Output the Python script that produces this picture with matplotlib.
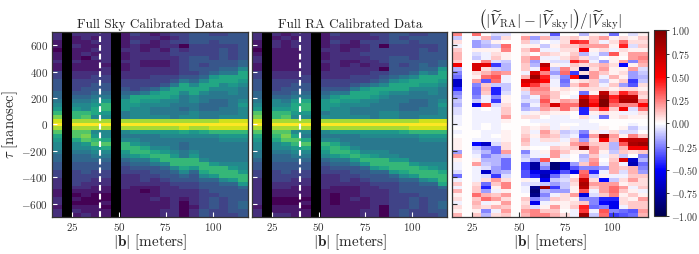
import numpy as np
import matplotlib
matplotlib.use("Agg")
import matplotlib.pyplot as plt
from matplotlib.ticker import FuncFormatter

plt.rcParams['mathtext.fontset'] = 'cm'
plt.rcParams['font.family'] = ['cmr10', 'DejaVu Sans']
plt.rcParams['axes.unicode_minus'] = False

baseline_edges = [14.4, 118.8]
delay_edges = [-700, 700]
x_ticks = [25, 50, 75, 100]
y_ticks = [-600, -400, -200, 0, 200, 400, 600]
cbar_ticks = [-1.0, -0.75, -0.5, -0.25, 0.0, 0.25, 0.5, 0.75, 1.0]
flagged_line = 40
titles = ['Full Sky Calibrated Data', 'Full RA Calibrated Data']
BLANK = "x" * 47

# colour level of each baseline column, top row to bottom row (0-f, x = flagged)
sky_columns = [
    "2211011211 3344455678 ace f db98776554 4332221122 122",
    BLANK,
    "2112111211 2233345678 aad f dbb9776554 4333321010 121",
    "2211120111 2233445677 abd f dbcb876554 4433221100 112",
    "2121212111 2334456789 97d f d78ab87654 4332211000 111",
    "2222222212 23344568aa 87d f d779b97654 4332211001 011",
    BLANK,
    "1111211211 2233456888 66d f d767aa8754 3322221111 111",
    "3232222222 2233359987 77d f d8678aa865 4322211111 111",
    "2221122112 2233469877 77d f d86679a965 4333210111 111",
    "1211222112 2333589876 67d f d866679a86 4432211121 111",
    "2122122112 2334799776 67d f d87667 8aa7 5443222211 122",
    "3232332222 2346998766 66d f d8766678aa 7544322222 222",
    "3330233333 3469976665 67d f e9765566aa 9754332210 000",
    "4443334444 3457997766 77d f d87666 78aa 8544332222 122",
    "4443334434 4579976655 66d f d97666667a a975443333 344",
    "3433333444 5899766555 66d f ea76666668 aa85444344 433",
    "3443444445 6997766556 67e f ea87666667 aaa7544433 333",
    "4443333445 6998776666 67e f ea87666667 8aa8544444 443",
    "4444444557 9987666787 77e f ea87666667 78aa854445 544",
]
ra_columns = [
    "2211012211 3344455678 bce f db98776654 4332222222 122",
    BLANK,
    "2122111111 2233345778 aad f dba9776554 4333221100 112",
    "1211111111 2233445678 abd f dbcb876554 4433221100 112",
    "2122111111 2234456899 87d f d79ba87654 4332211100 111",
    "2222222222 233445 69aa 87d f d769b97654 4332211101 011",
    BLANK,
    "1111211211 2233456888 67d f d767a98754 3322221111 111",
    "3232222222 2233468987 77d f d8679aa865 4322211000 111",
    "2221122112 2233469877 77d f d86679a965 4333211111 111",
    "2211222122 2334699876 67d f d866679a86 4432211121 111",
    "2232232212 2335899776 67d f d87666 79a8 5443222211 122",
    "3233333222 3346998766 66d f d8766678aa 8544322222 222",
    "3330333320 3457987666 77d f d8766677aa 9544332222 000",
    "4443334444 4579976666 77d f d87666678a a854333333 333",
    "4343334434 4689976655 66d f d97666668a a975444333 344",
    "3433333444 5799766555 66d f ea76666668 aa85444344 433",
    "3443444455 7998766556 67e f ea87666667 9aa7544433 333",
    "4443344445 6998776666 67e f ea87666667 8aa8544444 443",
    "4444444558 9987666787 77e f ea87666667 79aa954445 544",
]
# fractional difference as first read, in percent, top row to bottom row
diff_columns = [
    [30,-15,10,-5,15,20,20,15,60,-20,-30,-35,-70,-70,-50,-30,-25,-15,-20,-10,-10,-5,-5,
     -5,0,-5,0,5,5,5,-25,25,5,-5,-5,-10,-35,-5,15,-5,20,5,10,-5,10,5,20],
    [0]*47,
    [35,-5,-25,-25,5,-10,-15,5,70,70,10,5,25,-30,-35,-35,-30,-15,-60,-5,-5,-5,-5,
     -5,-5,0,0,-5,-55,-15,-10,-5,5,25,-5,-5,-5,-5,10,15,15,35,15,20,15,5,15],
    [0,20,-15,-20,5,-5,-5,30,65,10,20,35,-40,15,20,15,-5,-5,45,0,-5,-5,-5,
     0,0,-5,-5,-5,-70,-30,-20,-30,-20,-15,-10,-70,-10,10,-35,-50,-25,20,35,-5,10,-30,-20],
    [-10,-20,5,-15,5,10,15,-10,-45,-15,30,40,35,-15,-50,-50,-30,-45,-10,-5,-5,-5,-5,
     -5,-5,-5,0,-5,-10,-35,-35,-20,-20,-20,-25,-25,-45,25,15,5,-5,15,25,5,20,-5,10],
    [-10,10,0,35,30,5,5,-15,-20,-20,25,-5,-5,-15,-15,-10,5,5,10,15,15,25,5,
     0,0,5,5,5,10,10,25,-15,-35,-35,-35,-20,-10,10,30,30,5,25,10,25,15,25,15],
    [0]*47,
    [5,25,15,5,15,10,20,20,15,15,-5,20,70,60,15,-10,-15,-10,-25,-20,-5,10,0,
     0,10,10,15,20,15,5,-30,-15,-10,-45,-45,-40,-40,5,-10,-5,-5,0,15,10,15,25,20],
    [5,-25,-10,5,30,0,30,-25,-20,-5,70,90,70,45,30,25,-5,-10,-5,-15,5,10,-5,
     0,5,-5,5,-5,-5,0,-5,-5,-25,-80,-80,-60,-50,-5,-10,-85,-90,-85,-30,-60,-10,30,30],
    [-5,20,0,-15,-5,15,-5,5,80,60,30,50,55,25,30,25,30,40,30,25,10,0,-5,
     5,10,25,20,10,-5,0,5,-5,40,-20,-30,-70,-75,-60,-15,90,-20,-30,-20,-5,5,15,30],
    [-40,-15,-5,5,-5,10,-5,-10,5,-15,-25,-10,-5,-5,5,15,15,10,70,15,5,-5,-5,
     -5,-5,10,15,10,-5,15,25,25,0,-90,-90,-60,-35,-15,-25,-45,-25,-5,15,5,25,15,20],
    [0,10,10,15,10,5,10,-10,-5,30,35,-30,-35,-30,10,5,0,25,35,35,5,-5,-5,
     0,5,-15,-10,-5,5,10,15,-5,5,-70,-70,-40,-15,-10,-15,-15,-25,10,10,5,5,0,10],
    [0,15,50,15,10,15,20,50,15,10,-45,55,5,15,5,0,-5,20,35,15,0,0,-5,
     0,-5,-10,-5,15,25,15,5,0,0,-25,-40,-60,5,15,10,5,5,25,5,10,15,-5,-5],
    [-20,5,45,25,55,-20,10,35,10,-90,10,-90,10,30,10,-35,70,90,90,-50,-50,10,-5,
     -5,-5,-30,-40,-25,30,95,5,-20,-15,15,-30,35,40,75,85,80,40,-65,-30,15,50,45,90],
    [5,15,15,25,5,-5,-10,-5,15,10,25,25,15,15,10,5,45,50,60,25,5,-5,0,
     -5,-5,5,25,10,15,25,25,15,25,30,-30,-50,-15,10,25,15,-5,-10,-30,-30,-35,-5,-15],
    [-5,25,-5,25,10,-20,0,-25,20,25,15,-5,-15,-5,10,80,90,100,100,50,10,-35,0,
     0,5,-5,90,60,15,15,5,-5,0,-5,-25,-5,5,-55,25,25,25,15,-50,-55,-30,40,35],
    [-35,5,10,5,-5,40,5,5,10,5,5,20,5,15,5,20,50,45,35,15,5,5,0,
     0,0,10,25,20,-20,-20,-15,10,15,20,20,20,-5,-15,25,35,35,30,-50,-60,-60,-30,-45],
    [0,10,35,50,10,5,0,25,-55,5,10,5,15,-25,10,50,80,85,30,60,-5,10,0,
     0,5,-10,5,70,40,20,15,-15,70,-5,15,-10,-5,10,5,25,15,5,10,10,-5,-35,-40],
    [-10,5,10,-10,5,25,25,-30,5,25,-25,-25,-45,-40,10,35,80,85,30,-10,-5,5,0,
     -5,-15,-10,30,80,85,60,10,0,-70,-75,20,20,15,25,10,-5,5,15,5,15,15,-40,-35],
    [5,15,10,15,5,25,30,25,20,-10,-15,-20,-15,10,5,15,10,30,55,35,10,5,0,
     0,-5,0,15,80,90,60,15,-30,-20,-35,-30,-25,15,10,10,15,-5,5,25,15,15,25,20],
]
# my colour reading overstated pale cells; this exponent corrects it
READING_CORRECTION = 1.2


def levels(columns):
    cols = []
    for c in columns:
        c = c.replace(" ", "")
        assert len(c) == 47, c
        cols.append([np.nan if ch == "x" else int(ch, 16) / 15 for ch in c])
    return np.array(cols).T


sky = levels(sky_columns)
ra = levels(ra_columns)
for d in diff_columns:
    assert len(d) == 47, d
diff = np.array(diff_columns).T / 100
diff = np.sign(diff) * np.abs(diff) ** READING_CORRECTION

W, H = 699, 254
fig = plt.figure(figsize=(W / 100, H / 100), dpi=100)


def box(x0, x1, y0, y1):
    return [x0 / W, 1 - y1 / H, (x1 - x0) / W, (y1 - y0) / H]


mt = lambda v, p: "$%d$" % v if v >= 0 else r"$-%d$" % -v
extent = baseline_edges + delay_edges
viridis = plt.get_cmap('viridis').copy()
viridis.set_bad('black')
ax1 = fig.add_axes(box(52, 248, 32, 216.7))
ax2 = fig.add_axes(box(252.3, 447.3, 32, 216.7))
ax3 = fig.add_axes(box(452.3, 647.7, 32, 216.7))
cax = fig.add_axes(box(654, 665.7, 30.3, 216.3))
SPINE = '#333333'
INK = '#262626'
for ax, data, title in zip((ax1, ax2), (sky, ra), titles):
    ax.imshow(data, cmap=viridis, vmin=0, vmax=1, aspect='auto', extent=extent, interpolation='nearest')
    ax.axvline(flagged_line, color='white', ls='--', lw=1.5, dashes=(2.8, 1.4))
    ax.set_title(title, fontsize=9.5, pad=3, color=INK)
    ax.tick_params(colors='white', labelcolor='#333333', direction='in', length=3.6, width=0.8)
im = ax3.imshow(diff, cmap='seismic', vmin=-1, vmax=1, aspect='auto', extent=extent, interpolation='nearest')
ax3.set_title(r'$\left(|\widetilde{V}_{\mathrm{RA}}| - |\widetilde{V}_{\mathrm{sky}}|\right)/|\widetilde{V}_{\mathrm{sky}}|$',
              fontsize=11, pad=3, color=INK)
ax3.tick_params(color='#333333', labelcolor='#333333', direction='in', length=3.6, width=0.8)
for ax in (ax1, ax2, ax3):
    ax.set_xticks(x_ticks)
    ax.set_yticks(y_ticks)
    ax.xaxis.set_major_formatter(FuncFormatter(mt))
    ax.yaxis.set_major_formatter(FuncFormatter(mt))
    ax.tick_params(labelsize=8, pad=3)
    ax.set_xlabel(r'$|\mathbf{b}|\ [\mathrm{meters}]$', fontsize=11, labelpad=0, color=INK)
    for s in ax.spines.values():
        s.set_color(SPINE)
        s.set_linewidth(0.9)
ax1.set_ylabel(r'$\tau\ [\mathrm{nanosec}]$', fontsize=10.5, labelpad=1, color=INK)
ax2.tick_params(labelleft=False)
ax3.tick_params(labelleft=False)
cb = fig.colorbar(im, cax=cax)
cb.set_ticks(cbar_ticks)
cb.ax.yaxis.set_major_formatter(FuncFormatter(lambda v, p: ("$%.2f$" % v)))
cb.ax.tick_params(labelsize=7.2, length=2.5, width=0.7, pad=1.5, color='#333333', labelcolor='#333333')
cb.outline.set_edgecolor(SPINE)
fig.savefig('out.png', dpi=100)
